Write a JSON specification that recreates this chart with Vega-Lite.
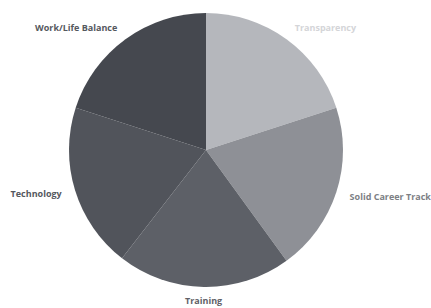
{
  "$schema": "https://vega.github.io/schema/vega-lite/v6.json",
  "width": 412,
  "height": 300,
  "autosize": {"type": "none"},
  "padding": {"left": 0, "top": 0, "right": 19, "bottom": 8},
  "background": "white",
  "config": {"view": {"stroke": null}},
  "data": {
    "values": [
      {"category": "Transparency", "value": 20, "rank": 1, "side": "right"},
      {"category": "Solid Career Track", "value": 20, "rank": 2, "side": "right"},
      {"category": "Training", "value": 20.5, "rank": 3, "side": "bottom"},
      {"category": "Technology", "value": 19.5, "rank": 4, "side": "left"},
      {"category": "Work/Life Balance", "value": 20, "rank": 5, "side": "left"}
    ]
  },
  "encoding": {
    "theta": {"field": "value", "type": "quantitative", "stack": true},
    "order": {"field": "rank", "type": "quantitative"}
  },
  "layer": [
    {
      "mark": {"type": "arc", "outerRadius": 137},
      "encoding": {
        "color": {
          "field": "category",
          "type": "nominal",
          "scale": {
            "domain": ["Transparency", "Solid Career Track", "Training", "Technology", "Work/Life Balance"],
            "range": ["#b5b7bc", "#8e9096", "#5d6067", "#51545b", "#45484f"]
          },
          "legend": null
        }
      }
    },
    {
      "mark": {
        "type": "text",
        "radius": 151,
        "align": {"expr": "datum.side == 'right' ? 'left' : (datum.side == 'left' ? 'right' : 'center')"},
        "baseline": "middle",
        "font": "Open Sans",
        "fontWeight": "bold",
        "fontSize": 9
      },
      "encoding": {
        "text": {"field": "category"},
        "color": {
          "field": "category",
          "type": "nominal",
          "scale": {
            "domain": ["Transparency", "Solid Career Track", "Training", "Technology", "Work/Life Balance"],
            "range": ["#d4d5d8", "#7d7f85", "#5f6167", "#55585e", "#55585e"]
          },
          "legend": null
        }
      }
    }
  ],
  "resolve": {"scale": {"color": "independent"}}
}
